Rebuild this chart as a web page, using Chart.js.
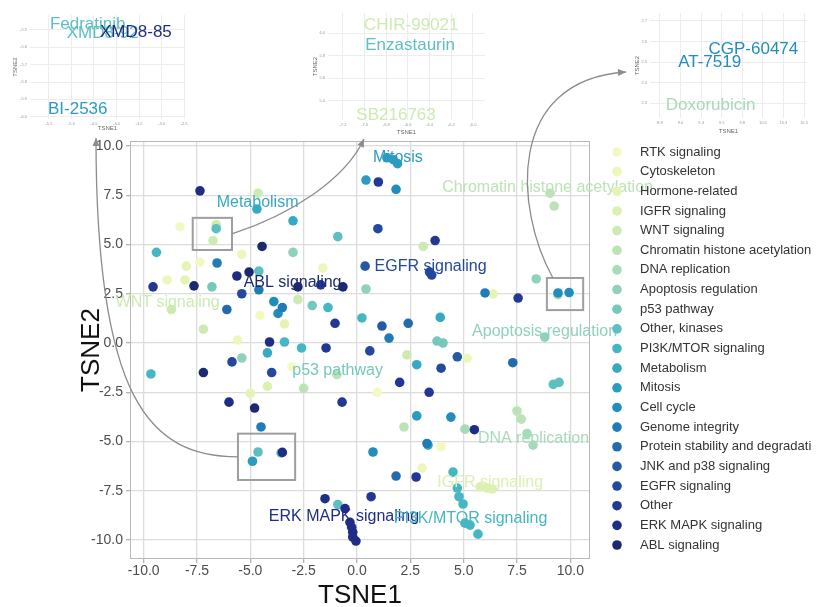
<!DOCTYPE html>
<html>
<head>
<meta charset="utf-8">
<script src="https://cdn.jsdelivr.net/npm/chart.js@4.4.1/dist/chart.umd.min.js"></script>
<style>
  body { margin: 0; background: #fff; overflow: hidden; }
  #wrap { position: relative; width: 827px; height: 607px; }
  canvas { position: absolute; top: 0; }
</style>
</head>
<body>
<div id="wrap">
  <canvas id="main" width="827" height="607" style="left:0"></canvas>
  <canvas id="inset1" width="200" height="137" style="left:0"></canvas>
  <canvas id="inset2" width="215" height="137" style="left:290px"></canvas>
  <canvas id="inset3" width="227" height="137" style="left:600px"></canvas>
</div>
<script>
const FONT = "'Liberation Sans', Arial, sans-serif";
Chart.defaults.font.family = FONT;

const categories = [
  'RTK signaling', 'Cytoskeleton', 'Hormone-related', 'IGFR signaling', 'WNT signaling',
  'Chromatin histone acetylation', 'DNA replication', 'Apoptosis regulation', 'p53 pathway',
  'Other, kinases', 'PI3K/MTOR signaling', 'Metabolism', 'Mitosis', 'Cell cycle',
  'Genome integrity', 'Protein stability and degradati', 'JNK and p38 signaling',
  'EGFR signaling', 'Other', 'ERK MAPK signaling', 'ABL signaling'
];
const palette = [
  '#f4f9c3', '#eef7bb', '#e6f4b3', '#dbf0b1', '#cdeab2', '#bce3b5', '#a6dab8',
  '#8fd1bb', '#76c8bd', '#5ebfc1', '#47b6c3', '#37a9c3', '#2b9bc1', '#228cbc',
  '#207cb5', '#226bad', '#2359a5', '#24489d', '#233894', '#1f2d85', '#1b2a6e'
];

// t-SNE coordinates of each compound, and its pathway (index into categories)
const tsne1 = [
  -8.3, -5.4, -8.0, -7.36, -8.9, -8.06, -1.6, -4.55, -3.4, -5.6, -3.05, -5.0, 0.94, 5.16, 6.38, 3.94, 3.05,
  -4.2, 5.77, 6.1, 6.33,
  -4.64, -6.6, -6.75, -2.77, -8.7, -7.2, 3.1, 2.34,
  -0.94, -2.5, 9.05, 9.24, 2.2, 7.5, 7.7,
  9.42, 5.06, 7.97, 8.25,
  -3.0, -5.4, 0.42, 8.4, 8.8,
  -6.8, -2.1, 3.75, 4.03,
  -0.9, -4.6, -6.6, 9.2, 9.47, -0.9, -4.64, -3.56,
  -9.4, -1.36, 0.23, -3.4, -2.6, -9.66, 4.5, 4.7, 4.78, 4.97, 5.06, 5.3, 5.67,
  -4.69, -3.0, -4.2, 2.8, 3.33, 3.9,
  1.4, 1.7, 1.9, 0.42, 2.8, -4.9,
  1.83, -3.9, -3.7, 9.42, 9.94, 4.4, 0.75,
  -6.56, -4.6, -3.5, 6.0, 1.5, 3.28, -4.5,
  -6.1, 2.4, 7.3, 1.83,
  0.38, 1.17, 4.7,
  -5.4, -5.86, -4.0, 0.98, 3.4, 3.5, 3.94, 0.6,
  -9.56, -1.7, -1.03, -1.45, 2.0, -0.7, 1.0, 3.66, 7.55, 3.38, 2.77, 0.66,
  -7.36, -5.63, -4.1, -6.0, 5.5, -3.5, -1.5, -0.56, -0.33, -0.25, -0.2, -0.2, -0.05,
  -4.45, -7.64, -5.06, -2.77, -0.66, -7.2, -4.8
];
const tsne2 = [
  5.9, 4.5, 3.9, 4.1, 3.2, 3.2, 3.8, 1.4, 0.97, 0.15, -1.2, -2.55, -2.5, -0.77, 2.49, -5.26, -6.35,
  -2.2, -7.3, -7.36, -7.41,
  7.6, 6.0, 5.2, 2.2, 1.7, 0.7, 4.9, -0.6,
  -1.6, -2.3, 7.6, 6.95, -4.26, -3.45, -3.86,
  2.45, -4.37, -4.6, -5.18,
  4.6, -0.76, 2.74, 3.25, 0.3,
  2.85, 1.9, 0.1, 0.0,
  5.4, 3.65, 5.8, -2.1, -2.0, -8.2, -5.53, -5.58,
  4.6, 1.8, 1.27, 0.05, -0.25, -1.57, -6.55, -7.36, -7.8, -8.17, -9.14, -9.24, -9.7,
  6.8, 6.2, -0.5, -1.1, -5.18, 1.3,
  9.4, 9.3, 9.1, 8.27, -3.7, -6.0,
  7.8, 2.1, 1.5, 2.54, 2.56, -3.76, -5.53,
  4.06, 2.7, 1.8, 2.54, 0.25, -5.1, -4.26,
  1.7, 1.0, -1.0, -6.75,
  3.9, 0.86, -0.7,
  2.5, -0.96, -1.5, 5.8, 3.6, 3.45, -1.28, -0.4,
  2.85, 2.95, 1.0, -0.25, -2.0, -3.0, 8.17, 5.2, 2.28, -2.5, -6.8, -7.8,
  7.72, 3.4, 0.05, -3.0, -4.4, -5.55, -7.9, -8.4, -9.1, -9.35, -9.6, -9.85, -10.05,
  4.9, 2.9, 3.6, 2.85, 2.85, -1.5, -3.3
];
const group = [
  0, 1, 2, 0, 1, 2, 1, 0, 2, 1, 0, 2, 0, 1, 2, 0, 1,
  3, 3, 3, 3,
  4, 4, 4, 4, 4, 4, 4, 4,
  5, 5, 5, 5, 5, 5, 5,
  6, 6, 6, 6,
  7, 7, 7, 7, 7,
  8, 8, 8, 8,
  9, 9, 9, 9, 9, 9, 9, 9,
  10, 10, 10, 10, 10, 10, 10, 10, 10, 10, 10, 10, 10,
  11, 11, 11, 11, 11, 11,
  12, 12, 12, 12, 12, 12,
  13, 13, 13, 13, 13, 13, 13,
  14, 14, 14, 14, 14, 14, 14,
  15, 15, 15, 15,
  16, 16, 16,
  17, 17, 17, 17, 17, 17, 17, 17,
  18, 18, 18, 18, 18, 18, 18, 18, 18, 18, 18, 18,
  19, 19, 19, 19, 19, 19, 19, 19, 19, 19, 19, 19, 19,
  20, 20, 20, 20, 20, 20, 20
];

// pathway labels written on the map
const clusterNames = ['Mitosis', 'Metabolism', 'Chromatin histone acetylation', 'ABL signaling',
  'EGFR signaling', 'WNT signaling', 'Apoptosis regulation', 'p53 pathway', 'DNA replication',
  'IGFR signaling', 'ERK MAPK signaling', 'PI3K/MTOR signaling'];
const clusterX = [1.92, -4.66, 8.93, -3.02, 3.45, -8.88, 8.79, -0.91, 8.27, 6.24, -0.61, 5.32];
const clusterY = [9.39, 7.1, 7.87, 3.05, 3.86, 2.03, 0.56, -1.42, -4.87, -7.1, -8.83, -8.93];
const clusterGroup = [12, 11, 5, 20, 17, 4, 7, 8, 6, 3, 19, 10];

// zoomed regions [xmin, xmax, ymin, ymax]
const zoomBoxes = [[-5.58, -2.9, -6.95, -4.6], [-7.7, -5.86, 4.72, 6.35], [8.9, 10.6, 1.67, 3.3]];

// inset drug labels
const inset1Names = ['Fedratinib', 'XMD8-92', 'XMD8-85', 'BI-2536'];
const inset1X = [-4.64, -4.31, -3.57, -4.86];
const inset1Y = [-5.47, -5.518, -5.512, -5.96];
const inset1Group = [9, 9, 19, 12];

const inset2Names = ['CHIR-99021', 'Enzastaurin', 'SB216763'];
const inset2X = [-6.57, -6.58, -6.71];
const inset2Y = [6.07, 5.89, 5.27];
const inset2Group = [4, 9, 4];

const inset3Names = ['CGP-60474', 'AT-7519', 'Doxorubicin'];
const inset3X = [9.885, 9.354, 9.366];
const inset3Y = [2.563, 2.50, 2.29];
const inset3Group = [13, 13, 6];

// curved arrow with a filled head
function drawArrow(ctx, p0, p1, p2, p3) {
  ctx.beginPath();
  ctx.moveTo(p0[0], p0[1]);
  ctx.bezierCurveTo(p1[0], p1[1], p2[0], p2[1], p3[0], p3[1]);
  ctx.stroke();
  const a = Math.atan2(p3[1] - p2[1], p3[0] - p2[0]);
  const L = 8, W = 3.5;
  ctx.beginPath();
  ctx.moveTo(p3[0], p3[1]);
  ctx.lineTo(p3[0] - L * Math.cos(a) + W * Math.sin(a), p3[1] - L * Math.sin(a) - W * Math.cos(a));
  ctx.lineTo(p3[0] - L * Math.cos(a) - W * Math.sin(a), p3[1] - L * Math.sin(a) + W * Math.cos(a));
  ctx.closePath();
  ctx.fill();
}

const overlay = {
  id: 'overlay',
  afterDraw(chart) {
    const { ctx, chartArea: a, scales: { x, y } } = chart;
    ctx.save();
    // panel border
    ctx.strokeStyle = '#b8b8b8';
    ctx.lineWidth = 1;
    ctx.strokeRect(a.left + 0.5, a.top + 0.5, a.width - 1, a.height - 1);

    // zoom boxes
    const px = zoomBoxes.map(b => ({
      l: x.getPixelForValue(b[0]), r: x.getPixelForValue(b[1]),
      b: y.getPixelForValue(b[2]), t: y.getPixelForValue(b[3])
    }));
    ctx.strokeStyle = '#9e9e9e';
    ctx.lineWidth = 2;
    px.forEach(p => ctx.strokeRect(p.l, p.t, p.r - p.l, p.b - p.t));

    // cluster labels
    ctx.font = '16px ' + FONT;
    ctx.textAlign = 'center';
    ctx.textBaseline = 'middle';
    clusterNames.forEach((t, i) => {
      ctx.fillStyle = palette[clusterGroup[i]];
      ctx.fillText(t, x.getPixelForValue(clusterX[i]), y.getPixelForValue(clusterY[i]));
    });

    // arrows to the insets
    ctx.strokeStyle = '#8c8c8c';
    ctx.fillStyle = '#8c8c8c';
    ctx.lineWidth = 1.3;
    const b1 = px[0], b2 = px[1], b3 = px[2];
    const m1 = (b1.t + b1.b) / 2, m2 = (b2.t + b2.b) / 2;
    drawArrow(ctx, [b1.l, m1], [b1.l - 88, m1], [96, 400], [96, 138]);
    drawArrow(ctx, [b2.r, m2], [290, 215], [345, 180], [364, 139]);
    drawArrow(ctx, [b3.l + 6, b3.t], [515, 210], [505, 80], [626, 72]);

    // legend
    ctx.font = '13px ' + FONT;
    ctx.textAlign = 'left';
    chart.data.datasets.forEach((ds, i) => {
      const cy = 152 + i * 19.65;
      ctx.fillStyle = ds.backgroundColor;
      ctx.beginPath();
      ctx.arc(617, cy, 4.8, 0, Math.PI * 2);
      ctx.fill();
      ctx.fillStyle = '#333';
      ctx.fillText(ds.label, 640, cy);
    });
    ctx.restore();
  }
};

new Chart(document.getElementById('main'), {
  type: 'scatter',
  data: {
    datasets: categories.map((name, g) => ({
      label: name,
      data: tsne1.map((v, i) => ({ x: v, y: tsne2[i], g: group[i] })).filter(p => p.g === g),
      backgroundColor: palette[g],
      borderWidth: 0,
      pointRadius: 4.8,
      pointHoverRadius: 4.8,
      order: categories.length - g
    }))
  },
  options: {
    responsive: false,
    animation: false,
    layout: { padding: { top: 141, right: 237, left: 0, bottom: 0 } },
    plugins: { legend: { display: false }, tooltip: { enabled: false } },
    scales: {
      x: {
        type: 'linear', min: -10.64, max: 10.92,
        afterFit: s => { s.height = 48; },
        ticks: { stepSize: 2.5, includeBounds: false, callback: v => v.toFixed(1),
          font: { size: 14 }, color: '#4d4d4d', padding: 0, maxRotation: 0 },
        grid: { color: '#dcdcdc', lineWidth: 1.3, tickLength: 4, tickColor: '#b3b3b3' },
        border: { display: false },
        title: { display: true, text: 'TSNE1', font: { size: 26 }, color: '#111', padding: { top: 0, bottom: -4 } }
      },
      y: {
        type: 'linear', min: -10.96, max: 10.25,
        afterFit: s => { s.width = 130; },
        ticks: { stepSize: 2.5, includeBounds: false, callback: v => v.toFixed(1),
          font: { size: 14 }, color: '#4d4d4d', padding: 3 },
        grid: { color: '#dcdcdc', lineWidth: 1.3, tickLength: 4, tickColor: '#b3b3b3' },
        border: { display: false },
        title: { display: true, text: 'TSNE2', font: { size: 26 }, color: '#111', padding: { top: 76, bottom: 0 } }
      }
    }
  },
  plugins: [overlay]
});

const insetLabels = {
  id: 'insetLabels',
  afterDatasetsDraw(chart) {
    const { ctx } = chart;
    const ds = chart.data.datasets[0];
    const meta = chart.getDatasetMeta(0);
    ctx.save();
    ctx.font = '17px ' + FONT;
    ctx.textAlign = 'center';
    ctx.textBaseline = 'middle';
    meta.data.forEach((el, i) => {
      ctx.fillStyle = palette[ds.groups[i]];
      ctx.fillText(ds.names[i], el.x, el.y);
    });
    ctx.restore();
  }
};

function makeInset(id, names, xs, ys, groups, xRange, yRange, xStep, yStep, frame) {
  const tickFont = { size: 4 };
  new Chart(document.getElementById(id), {
    type: 'scatter',
    data: {
      datasets: [{
        data: xs.map((v, i) => ({ x: v, y: ys[i] })),
        names: names, groups: groups,
        pointRadius: 0, pointHoverRadius: 0
      }]
    },
    options: {
      responsive: false,
      animation: false,
      layout: { padding: { top: frame.top, right: frame.right, left: 0, bottom: 0 } },
      plugins: { legend: { display: false }, tooltip: { enabled: false } },
      scales: {
        x: {
          type: 'linear', min: xRange[0], max: xRange[1],
          afterFit: s => { s.height = frame.xh; },
          ticks: { stepSize: xStep, includeBounds: false, autoSkip: false, maxRotation: 0,
            callback: v => v.toFixed(1), font: tickFont, color: '#999', padding: 2 },
          grid: { color: '#ececec', lineWidth: 1, drawTicks: false },
          border: { display: false },
          title: { display: true, text: 'TSNE1', font: { size: 6 }, color: '#666', padding: { top: 0, bottom: frame.xtp } }
        },
        y: {
          type: 'linear', min: yRange[0], max: yRange[1],
          afterFit: s => { s.width = frame.yw; },
          ticks: { stepSize: yStep, includeBounds: false, autoSkip: false,
            callback: v => v.toFixed(1), font: tickFont, color: '#999', padding: 3 },
          grid: { color: '#ececec', lineWidth: 1, drawTicks: false },
          border: { display: false },
          title: { display: true, text: 'TSNE2', font: { size: 6 }, color: '#666', padding: { top: frame.ytp, bottom: 0 } }
        }
      }
    },
    plugins: [insetLabels]
  });
}

makeInset('inset1', inset1Names, inset1X, inset1Y, inset1Group, [-5.92, -2.48], [-6.013, -5.414], 0.5, 0.1,
  { top: 15, right: 15, xh: 18, yw: 30, xtp: 5.4, ytp: 11.4 });
makeInset('inset2', inset2Names, inset2X, inset2Y, inset2Group, [-7.338, -5.889], [5.23, 6.18], 0.2, 0.2,
  { top: 13, right: 20, xh: 17, yw: 38, xtp: 1.4, ytp: 21.4 });
makeInset('inset3', inset3Names, inset3X, inset3Y, inset3Group, [8.63, 10.536], [2.227, 2.739], 0.25, 0.1,
  { top: 13, right: 20, xh: 19, yw: 50, xtp: 2.4, ytp: 33.4 });
</script>
</body>
</html>
